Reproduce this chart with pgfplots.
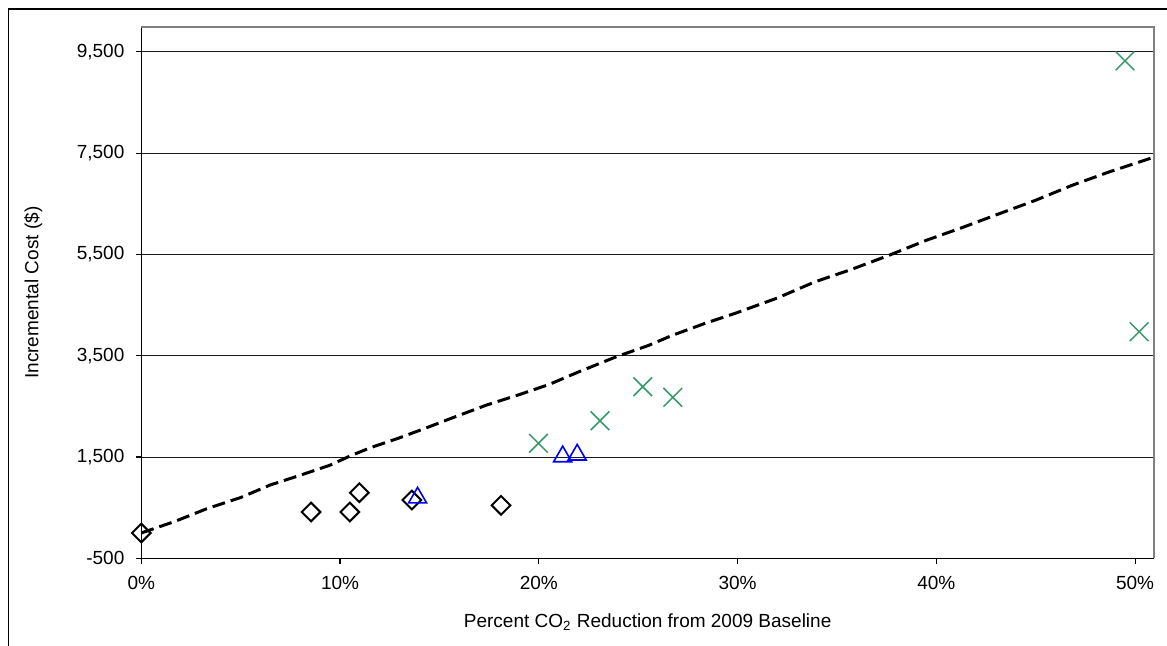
\documentclass[border=0pt]{standalone}
\usepackage{pgfplots}
\pgfplotsset{compat=1.18}
\usepackage{fontspec}
\setmainfont{Liberation Sans}
\definecolor{xgreen}{RGB}{51,153,102}
\begin{document}
\fontsize{9.5}{11.4}\selectfont
\begin{tikzpicture}[x=1pt,y=1pt]
\useasboundingbox (0,0) rectangle (583.5,322.5);
\draw[line width=0.8pt] (4.2,-2) -- (4.2,318) -- (590,318);
\begin{axis}[
  at={(70.65pt,43.35pt)}, anchor=south west,
  scale only axis, width=506.35pt, height=265.65pt,
  xmin=0, xmax=50.95, ymin=-500, ymax=9990,
  axis lines=left, axis line style={-, line width=0.7pt, black},
  tick align=outside, xtick pos=left, ytick pos=left,
  major tick length=2.6pt,
  tick style={line width=0.6pt, black},
  xtick={0,10,20,30,40,50},
  xticklabels={0\%,10\%,20\%,30\%,40\%,50\%},
  ytick={-500,1500,3500,5500,7500,9500},
  yticklabels={-500,{1,500},{3,500},{5,500},{7,500},{9,500}},
  ymajorgrids, grid style={line width=0.5pt, black!90},
  xticklabel style={yshift=-3pt},
  yticklabel style={xshift=-2.5pt},
  xlabel={Percent CO\textsubscript{2} Reduction from 2009 Baseline},
  ylabel={Incremental Cost (\$)},
  xlabel style={at={(axis description cs:0.5,0)}, anchor=center, yshift=-32pt},
  ylabel style={at={(axis description cs:0,0.5)}, anchor=center, yshift=54pt},
  /pgf/number format/assume math mode=true,
  clip=false,
]
\draw[line width=0.6pt, black!50] (rel axis cs:0,1) -- (rel axis cs:1,1) -- (rel axis cs:1,0);
\addplot[black, line width=1.5pt, dash pattern=on 6.5pt off 3pt] coordinates {
(0,0) (1.7,230) (3.3,480) (5,700) (6.5,950) (8,1140) (9.5,1340) (10.5,1520)
(11.5,1680) (13,1880) (14.3,2070) (15.7,2280) (17.4,2530) (19,2730) (20.5,2930)
(22,3180) (23.9,3480) (25.5,3700) (26.7,3900) (28.3,4130) (29.9,4340) (32,4640)
(33.9,4960) (35.7,5200) (37.6,5480) (39.5,5780) (41.3,6030) (43,6280) (45,6570)
(46.8,6860) (48.7,7130) (50.95,7420)
};
\addplot[only marks, mark=square, mark size=3.3pt, mark options={rotate=45, line width=1pt, black, solid}] coordinates {
(0,0) (8.54,414) (10.49,414) (10.97,795) (13.61,651) (18.1,546)
};
\addplot[only marks, mark=triangle, mark size=5.2pt, mark options={line width=0.8pt, blue, solid}] coordinates {
(13.9,696) (21.2,1510) (21.93,1543)
};
\addplot[only marks, mark=x, mark size=6.6pt, mark options={line width=0.75pt, xgreen, solid}] coordinates {
(19.98,1770) (23.08,2216) (25.23,2887) (26.74,2678) (49.49,9322) (50.2,3973)
};
\end{axis}
\end{tikzpicture}
\end{document}
